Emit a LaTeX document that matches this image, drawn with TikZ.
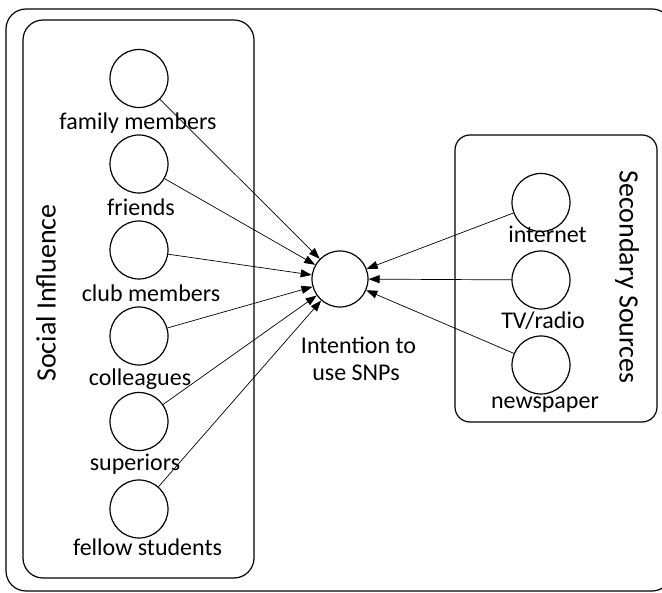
\documentclass[tikz,border=0pt]{standalone}
\usepackage{fontspec}
\setmainfont{Carlito}
\usetikzlibrary{arrows.meta}
\begin{document}
\begin{tikzpicture}[x=1pt,y=-1pt,
  circ/.style={draw,circle,line width=1.2pt,minimum size=58pt,inner sep=0pt},
  lbl/.style={font=\fontsize{24}{27}\selectfont,inner sep=0pt,anchor=base},
  ttl/.style={font=\fontsize{28}{32}\selectfont,inner sep=0pt},
  grp/.style={draw,line width=1.2pt,rounded corners=#1},
  arr/.style={-{Triangle[length=11pt,width=8pt]},line width=0.7pt}]
\useasboundingbox (0,0) rectangle (662,593);
\clip (0,0) rectangle (662,593);
\draw[grp=20pt] (6,9) rectangle (672,591);
\draw[grp=20pt] (23,20) rectangle (254,578);
\draw[grp=15pt] (455,135) rectangle (657,422);
% left circles
\node[circ] (fam) at (139,78.5) {};
\node[circ] (fri) at (139,164) {};
\node[circ] (club) at (139,250) {};
\node[circ] (coll) at (139,336) {};
\node[circ] (sup) at (139,421.5) {};
\node[circ] (fel) at (139,509) {};
\node[lbl] (lfam) at (138,129.5) {family members};
\node[lbl] (lfri) at (141,216) {friends};
\node[lbl] (lclub) at (151,302) {club members};
\node[lbl] (lcoll) at (140,386) {colleagues};
\node[lbl] (lsup) at (135,471) {superiors};
\node[lbl] (lfel) at (147.5,556) {fellow students};
% center
\node[circ,minimum size=56pt] (ctr) at (340,279) {};
\node[lbl] (lctrA) at (358.5,353.5) {Intention to};
\node[lbl] (lctrB) at (356,380.5) {use SNPs};
% right circles
\node[circ] (int) at (541,202.5) {};
\node[circ] (tv) at (541,280) {};
\node[circ] (news) at (541,365) {};
\node[lbl] (lint) at (547.5,243) {internet};
\node[lbl] (ltv) at (543,329) {TV/radio};
\node[lbl] (lnews) at (545,409) {newspaper};
% titles
\node[ttl,rotate=90] (tsoc) at (46,293) {Social Influence};
\node[ttl,rotate=-90] (tsec) at (627,277) {Secondary Sources};
% arrows
\foreach \s in {fam,fri,club,coll,sup,fel,int,tv,news}
  \draw[arr] (\s) -- (ctr);
\end{tikzpicture}
\end{document}
